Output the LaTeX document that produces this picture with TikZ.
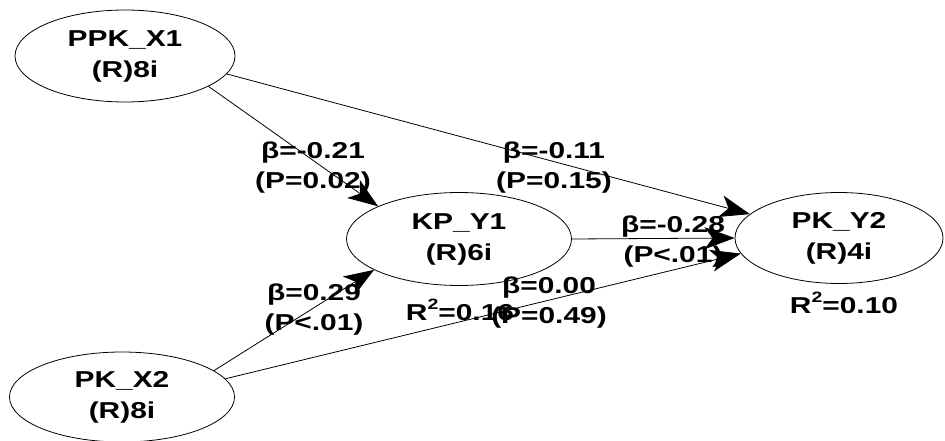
\documentclass[tikz,border=0pt]{standalone}
\usepackage{fontspec}
\setmainfont[FakeStretch=1.3]{Liberation Sans}
\usetikzlibrary{shapes.geometric,arrows.meta}
\newcommand{\sqd}{\raisebox{0.45em}{\fontsize{15}{15}\selectfont 2}}
\begin{document}
\begin{tikzpicture}[x=1pt,y=-1pt,
  lat/.style={ellipse,draw,line width=0.8pt,inner sep=0pt,align=center,
    font=\fontsize{23}{31}\selectfont\bfseries},
  lbl/.style={align=center,inner sep=0pt,font=\fontsize{23}{30}\selectfont\bfseries},
  arr/.style={line width=0.8pt,-{Stealth[length=30pt,width=22pt,inset=8pt]}}]
\useasboundingbox[fill=white] (0,0) rectangle (945,441);
\node[lat,minimum width=220pt,minimum height=92pt] (x1) at (125,56) {PPK\_X1\\(R)8i};
\node[lat,minimum width=225pt,minimum height=93pt] (y1) at (459,239) {KP\_Y1\\(R)6i};
\node[lat,minimum width=208pt,minimum height=91pt] (y2) at (839,238) {PK\_Y2\\(R)4i};
\node[lat,minimum width=225pt,minimum height=90pt] (x2) at (122,397) {PK\_X2\\(R)8i};
\draw[arr] (x1.-20) -- (y1.158);
\draw[arr] (x1.-10) -- (y2.165);
\draw[arr] (y1.east) -- (y2.west);
\draw[arr] (x2.16) -- (y1.200);
\draw[arr] (x2.10) -- (y2.189);
\node[lbl] (l1) at (313,168) {β=-0.21\\(P=0.02)};
\node[lbl] (l2) at (554,168) {β=-0.11\\(P=0.15)};
\node[lbl] (l3) at (673,242) {β=-0.28\\(P<.01)};
\node[lbl] (l4) at (314,310) {β=0.29\\(P<.01)};
\node[lbl] (l5) at (549,303) {β=0.00\\(P=0.49)};
\node[lbl] (r1) at (460,310) {R\sqd=0.16};
\node[lbl] (r2) at (844,303) {R\sqd=0.10};
\end{tikzpicture}
\end{document}
